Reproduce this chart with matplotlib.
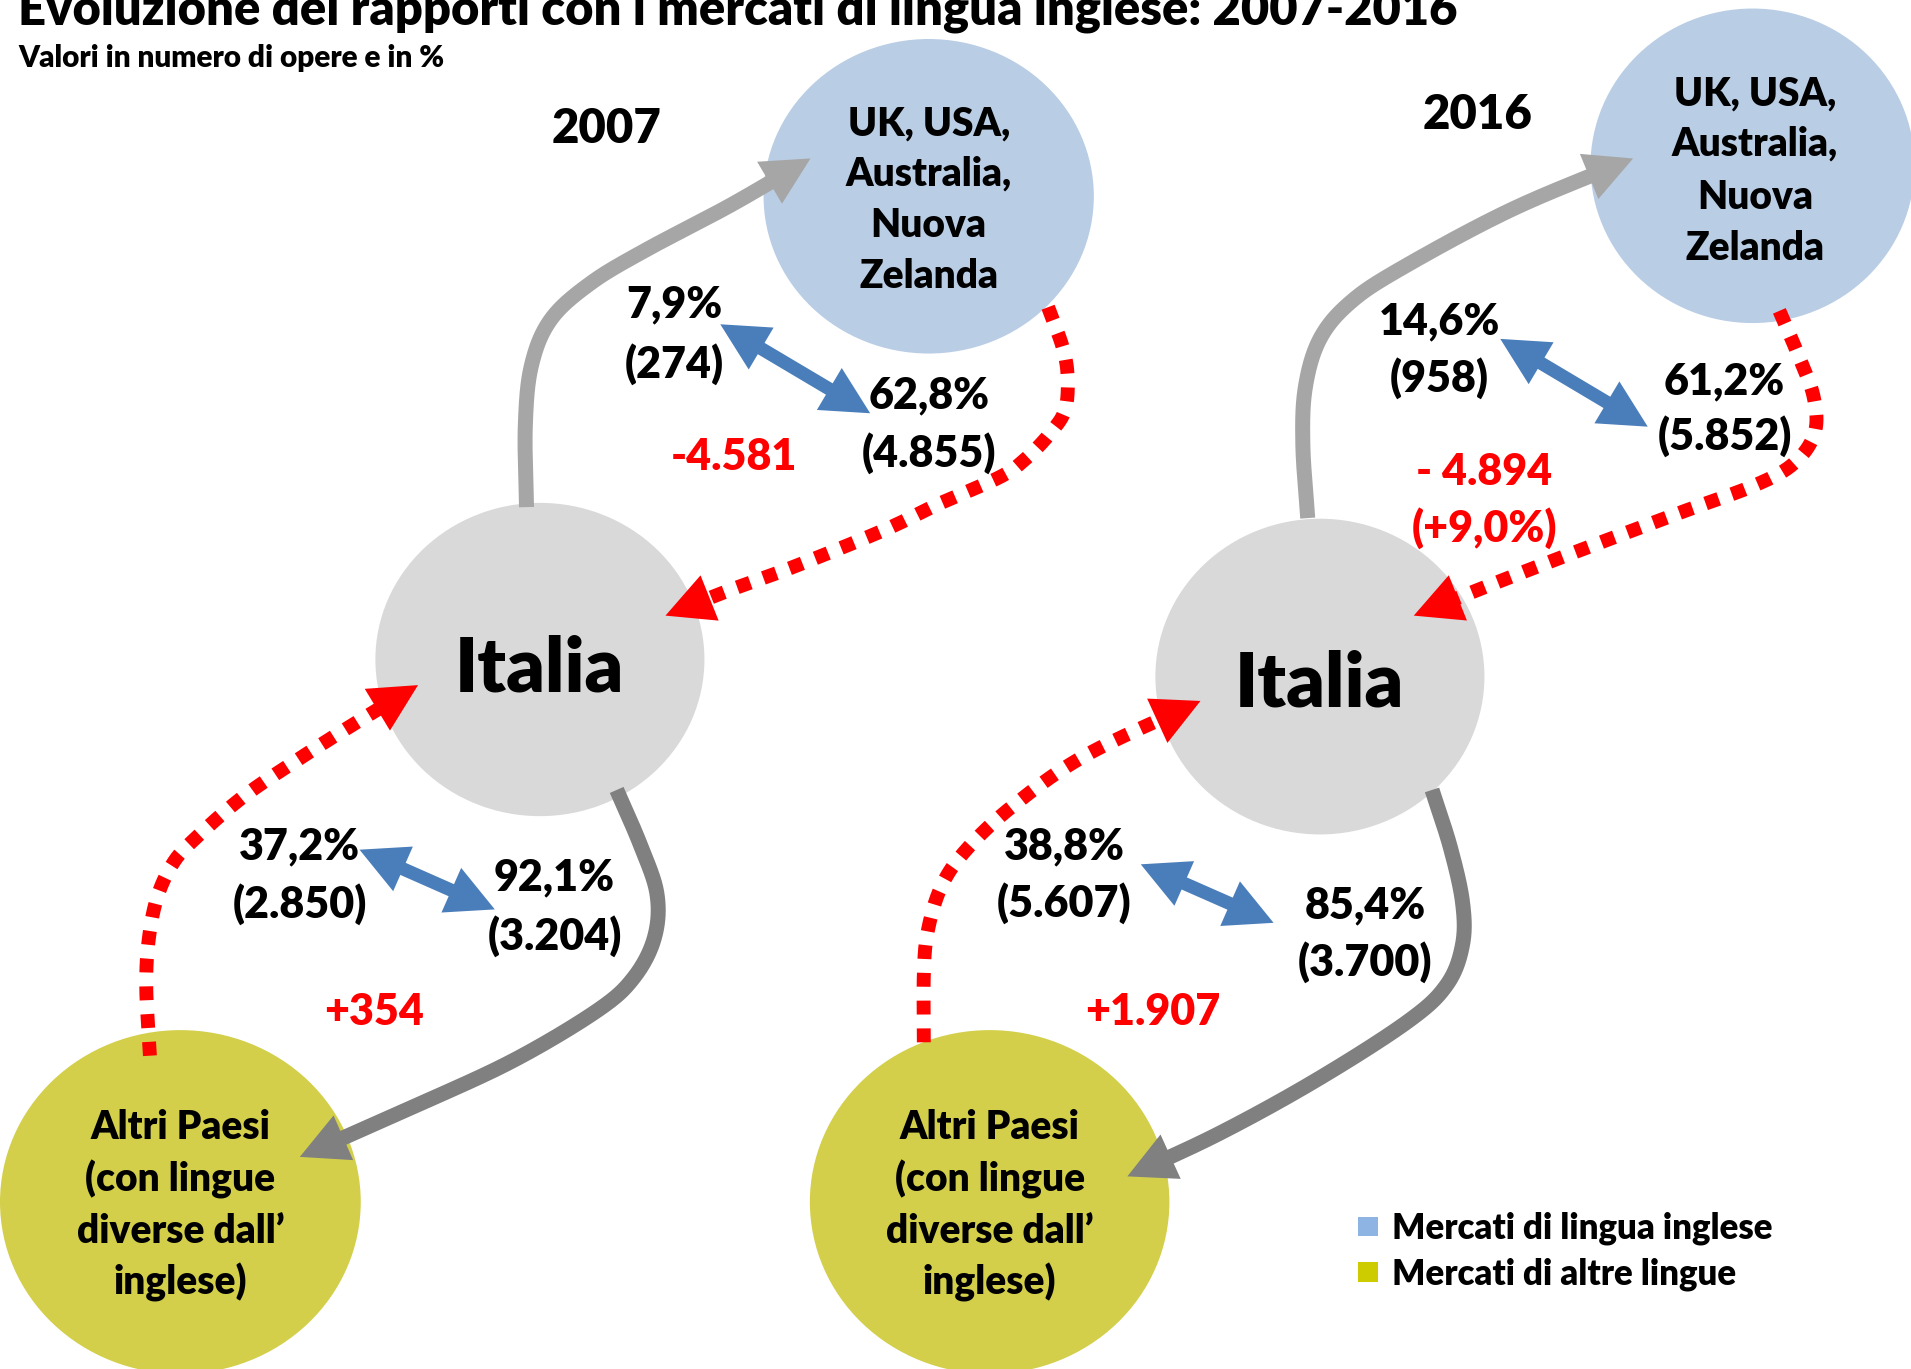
import numpy as np
import matplotlib
matplotlib.use("Agg")
import matplotlib.pyplot as plt
from matplotlib.patches import Ellipse, Polygon, Rectangle

# ---------------- data ----------------
title = "Evoluzione dei rapporti con i mercati di lingua inglese: 2007-2016"
subtitle = "Valori in numero di opere e in %"
years = ["2007", "2016"]
home_label = "Italia"
en_label = ["UK, USA,", "Australia,", "Nuova", "Zelanda"]
other_label = ["Altri Paesi", "(con lingue", "diverse dall’", "inglese)"]
it_to_en_pct = ["7,9%", "14,6%"]
it_to_en_n = ["(274)", "(958)"]
en_to_it_pct = ["62,8%", "61,2%"]
en_to_it_n = ["(4.855)", "(5.852)"]
en_balance = [["-4.581"], ["- 4.894", "(+9,0%)"]]
other_a_pct = ["37,2%", "38,8%"]
other_a_n = ["(2.850)", "(5.607)"]
other_b_pct = ["92,1%", "85,4%"]
other_b_n = ["(3.204)", "(3.700)"]
other_balance = ["+354", "+1.907"]
legend_labels = ["Mercati di lingua inglese", "Mercati di altre lingue"]
legend_colors = ["#8db4e2", "#cccc00"]

# ---------------- style ----------------
C_EN = "#b9cde5"
C_IT = "#d9d9d9"
C_OT = "#d3cf4b"
C_LG = "#a6a6a6"
C_DG = "#808080"
C_BL = "#4a7ebb"
C_RD = "#ff0000"
FONT = ["Lato", "DejaVu Sans"]
WEIGHT = 800

W, H = 1568.0, 1123.0
fig = plt.figure(figsize=(19.11, 13.69), dpi=100)
ax = fig.add_axes([0, 0, 1, 1])
ax.set_xlim(0, W)
ax.set_ylim(H, 0)
ax.axis("off")
PX = 1911.0 / W  # full pixels per layout unit


def pt2u(pt):
    return pt / 0.72 / PX


def txt(x, yc, s, size=28, color="black", ha="center"):
    # yc = vertical centre of the capital letters
    base = yc + 0.36 * pt2u(size)
    return ax.text(x, base, s, fontsize=size, color=color, ha=ha, va="baseline",
                   fontweight=WEIGHT, family=FONT, zorder=10)


def lines(x, ycs, strs, size=28, color="black"):
    for y, s in zip(ycs, strs):
        txt(x, y, s, size=size, color=color)


def spline(pts, n=40):
    P = np.asarray(pts, float)
    P = np.vstack([2 * P[0] - P[1], P, 2 * P[-1] - P[-2]])
    out = []
    t = np.linspace(0, 1, n, endpoint=False)[:, None]
    for i in range(1, len(P) - 2):
        p0, p1, p2, p3 = P[i - 1], P[i], P[i + 1], P[i + 2]
        out.append(0.5 * (2 * p1 + (p2 - p0) * t + (2 * p0 - 5 * p1 + 4 * p2 - p3) * t ** 2
                          + (-p0 + 3 * p1 - 3 * p2 + p3) * t ** 3))
    out.append(P[-2][None, :])
    return np.vstack(out)


def head(tip, d, L=39, Wd=20, color="k"):
    n = np.array([-d[1], d[0]])
    B = tip - L * d
    ax.add_patch(Polygon([tip, B + Wd * n, B - Wd * n], closed=True, fc=color, ec="none", zorder=6))
    return B


def curved_arrow(pts, color, lw, dotted=False, L=39, Wd=20):
    C = spline(pts)
    seg = np.sqrt(((np.diff(C, axis=0)) ** 2).sum(1))
    s_end = np.concatenate([np.cumsum(seg[::-1])[::-1], [0]])
    tip = C[-1]
    k = np.argmin(np.abs(s_end - L))
    d = tip - C[k]
    d = d / np.hypot(*d)
    B = head(tip, d, L, Wd, color)
    body = np.vstack([C[s_end > L], B + 0.5 * d])
    if dotted:
        ax.plot(body[:, 0], body[:, 1], color=color, lw=lw, linestyle=(0, (1, 1)),
                dash_capstyle="butt", solid_capstyle="butt", zorder=5)
    else:
        ax.plot(body[:, 0], body[:, 1], color=color, lw=lw, solid_capstyle="butt", zorder=5)


def double_arrow(p, q, color=C_BL, lw=9.5, L=39, Wd=20):
    p, q = np.asarray(p, float), np.asarray(q, float)
    d = (q - p) / np.hypot(*(q - p))
    B1 = head(q, d, L, Wd, color)
    B2 = head(p, -d, L, Wd, color)
    ax.plot([B2[0] - 0.5 * d[0], B1[0] + 0.5 * d[0]], [B2[1] - 0.5 * d[1], B1[1] + 0.5 * d[1]],
            color=color, lw=lw, solid_capstyle="butt", zorder=5)


def circle(c, w, h, color):
    ax.add_patch(Ellipse(c, w, h, fc=color, ec="none", zorder=1))


# ---------------- layout of the two panels ----------------
panels = [
    dict(year=(498, 103), en=(762, 161, 271, 258), en_txt=(762, [100, 141, 183, 225]),
         it=(443, 541, 270, 257), it_txt=(443, 545),
         ot=(148, 986, 296, 282), ot_txt=(148, [923, 966, 1008, 1050]),
         up=[(432, 416), (431, 350), (436, 300), (452, 262), (485, 232), (530, 205),
             (600, 168), (665, 130)],
         dn_en=[(860, 252), (872, 285), (876, 309), (874, 336), (862, 355), (842, 376),
                (821, 391), (771, 413), (725, 435), (651, 465), (599, 484), (546, 505)],
         up_ot=[(123, 866), (120, 810), (122, 771), (129, 736), (142, 708), (160, 688),
                (199, 654), (243, 624), (287, 596), (343, 562)],
         dn_ot=[(506, 648), (525, 692), (539, 733), (537, 769), (520, 802), (490, 829),
                (421, 870), (339, 908), (246, 949)],
         bl1=((591, 266), (714, 339)), bl2=((295, 697), (406, 746)),
         a1=(553, [248, 297]), a2=(762, [322, 370]), bal1=(602, [373]),
         b1=(246, [692, 740]), b2=(455, [718, 766]), bal2=(307, 828)),
    dict(year=(1212, 92), en=(1438, 136, 266, 258), en_txt=(1440, [75, 116, 160, 202]),
         it=(1083, 555, 270, 259), it_txt=(1083, 557),
         ot=(812, 986, 295, 282), ot_txt=(812, [923, 966, 1008, 1050]),
         up=[(1073, 425), (1069, 365), (1071, 318), (1083, 278), (1108, 248), (1150, 220),
             (1240, 172), (1340, 130)],
         dn_en=[(1460, 255), (1475, 290), (1488, 325), (1489, 355), (1472, 380), (1440, 398),
                (1380, 420), (1300, 450), (1230, 477), (1160, 505)],
         up_ot=[(758, 855), (758, 800), (761, 765), (772, 728), (792, 698), (830, 662),
                (890, 620), (985, 575)],
         dn_ot=[(1175, 648), (1190, 695), (1200, 740), (1200, 775), (1187, 808), (1155, 838),
                (1080, 886), (1000, 930), (925, 965)],
         bl1=((1231, 278), (1352, 350)), bl2=((936, 709), (1045, 757)),
         a1=(1181, [262, 309]), a2=(1415, [311, 356]), bal1=(1218, [385, 432]),
         b1=(873, [692, 739]), b2=(1120, [741, 788]), bal2=(946, 828)),
]

LBL = 31
for i, P in enumerate(panels):
    circle(P["en"][:2], P["en"][2], P["en"][3], C_EN)
    circle(P["it"][:2], P["it"][2], P["it"][3], C_IT)
    circle(P["ot"][:2], P["ot"][2], P["ot"][3], C_OT)

    curved_arrow(P["up"], C_LG, 10.8)
    curved_arrow(P["dn_en"], C_RD, 10.0, dotted=True)
    curved_arrow(P["up_ot"], C_RD, 10.0, dotted=True)
    curved_arrow(P["dn_ot"], C_DG, 10.8)
    double_arrow(*P["bl1"])
    double_arrow(*P["bl2"])

    txt(P["year"][0], P["year"][1], years[i], size=34)
    lines(P["en_txt"][0], P["en_txt"][1], en_label, size=28)
    txt(P["it_txt"][0], P["it_txt"][1], home_label, size=54)
    lines(P["ot_txt"][0], P["ot_txt"][1], other_label, size=28)
    lines(P["a1"][0], P["a1"][1], [it_to_en_pct[i], it_to_en_n[i]], size=LBL)
    lines(P["a2"][0], P["a2"][1], [en_to_it_pct[i], en_to_it_n[i]], size=LBL)
    lines(P["bal1"][0], P["bal1"][1], en_balance[i], size=LBL, color=C_RD)
    lines(P["b1"][0], P["b1"][1], [other_a_pct[i], other_a_n[i]], size=LBL)
    lines(P["b2"][0], P["b2"][1], [other_b_pct[i], other_b_n[i]], size=LBL)
    txt(P["bal2"][0], P["bal2"][1], other_balance[i], size=LBL, color=C_RD)

# legend
for j, (lab, col) in enumerate(zip(legend_labels, legend_colors)):
    yc = 1006 + 37.5 * j
    ax.add_patch(Rectangle((1114, yc - 8), 17, 16, fc=col, ec="none", zorder=3))
    txt(1142, yc, lab, size=25, ha="left")

# title and subtitle, fitted to the reference widths
fig.canvas.draw()
r = fig.canvas.get_renderer()
t1 = ax.text(15, 20, title, fontsize=40, fontweight=WEIGHT, family=FONT, ha="left", va="baseline")
t2 = ax.text(15, 55, subtitle, fontsize=14, fontweight=WEIGHT, family=FONT, ha="left", va="baseline")
for t, target in ((t1, 1178), (t2, 350)):
    wpx = t.get_window_extent(r).width / PX
    t.set_fontsize(t.get_fontsize() * target / wpx)

fig.savefig("out.png", dpi=100)
